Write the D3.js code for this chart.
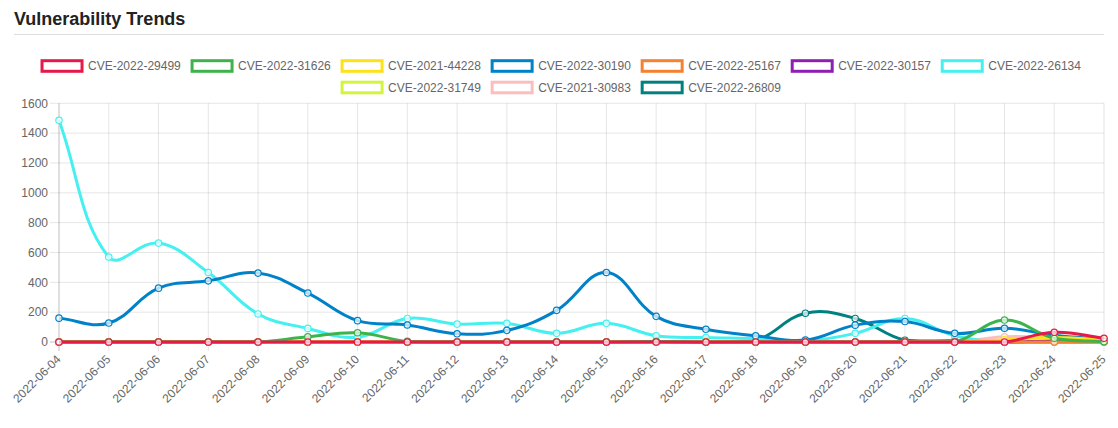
<!DOCTYPE html>
<html>
<head>
<meta charset="utf-8">
<script src="https://cdn.jsdelivr.net/npm/d3@7/dist/d3.min.js"></script>
<style>
  html, body { margin: 0; padding: 0; background: #fff; }
  svg { display: block; font-family: "Liberation Sans", Arial, Helvetica, sans-serif; }
</style>
</head>
<body>
<svg id="chart" width="1118" height="428"></svg>
<script>
// ---------- data ----------
const dates = ["2022-06-04","2022-06-05","2022-06-06","2022-06-07","2022-06-08","2022-06-09","2022-06-10","2022-06-11","2022-06-12","2022-06-13","2022-06-14","2022-06-15","2022-06-16","2022-06-17","2022-06-18","2022-06-19","2022-06-20","2022-06-21","2022-06-22","2022-06-23","2022-06-24","2022-06-25"];
const seriesNames = ["CVE-2022-29499","CVE-2022-31626","CVE-2021-44228","CVE-2022-30190","CVE-2022-25167","CVE-2022-30157","CVE-2022-26134","CVE-2022-31749","CVE-2021-30983","CVE-2022-26809"];
const cve_2022_29499 = [0,0,0,0,0,0,0,0,0,0,0,0,0,0,0,0,0,0,0,0,65,25];
const cve_2022_31626 = [0,0,0,0,0,35,62,4,0,0,0,0,4,0,0,0,0,0,0,147,25,3];
const cve_2021_44228 = [0,0,0,0,0,0,0,0,0,0,0,0,0,4,0,0,0,0,0,15,30,15];
const cve_2022_30190 = [160,127,361,410,462,328,143,114,55,78,212,466,172,85,42,13,113,137,58,92,45,17];
const cve_2022_25167 = [0,0,0,0,0,0,0,0,0,0,0,0,0,0,0,0,0,0,0,0,0,0];
const cve_2022_30157 = [0,0,0,0,0,0,0,0,0,0,0,0,0,0,0,0,0,0,0,0,6,4];
const cve_2022_26134 = [1486,569,663,466,188,91,32,158,120,125,58,125,42,30,22,8,58,158,42,0,0,0];
const cve_2022_31749 = [0,0,0,0,0,0,0,0,0,0,0,0,0,0,0,0,0,0,0,0,5,2];
const cve_2021_30983 = [0,0,0,0,0,0,0,0,0,0,0,0,0,0,0,0,0,0,0,35,30,15];
const cve_2022_26809 = [0,0,0,0,0,0,0,0,0,0,0,0,0,0,10,193,158,12,8,0,0,0];
const seriesValues = [cve_2022_29499,cve_2022_31626,cve_2021_44228,cve_2022_30190,cve_2022_25167,cve_2022_30157,cve_2022_26134,cve_2022_31749,cve_2021_30983,cve_2022_26809];
const seriesColors = ["#e6194b","#3cb44b","#ffe119","#0082c8","#f58231","#911eb4","#46f0f0","#d2f53c","#fabebe","#008080"];
const yTicks = [0,200,400,600,800,1000,1200,1400,1600];
const titleText = "Vulnerability Trends";

// ---------- layout ----------
const svg = d3.select("#chart");
const area = { left: 59, right: 1104, top: 103.3, bottom: 342 };
const x = d3.scalePoint().domain(dates).range([area.left, area.right]);
const y = d3.scaleLinear().domain([0, 1600]).range([area.bottom, area.top]);

// title + separator
svg.append("text").attr("x", 14).attr("y", 25)
  .attr("font-size", 18).attr("font-weight", "bold").attr("fill", "#222")
  .text(titleText);
svg.append("line").attr("x1", 14).attr("x2", 1104).attr("y1", 34.5).attr("y2", 34.5)
  .attr("stroke", "#dedede").attr("stroke-width", 1);

// ---------- legend ----------
const legend = svg.append("g");
const items = seriesNames.map((name, i) => ({ name, color: seriesColors[i] }));
const tmp = legend.append("text").attr("font-size", 12);
items.forEach(it => { tmp.text(it.name); it.w = 46 + tmp.node().getComputedTextLength(); });
tmp.remove();
const gap = 11.3, maxW = 1100;
const rows = [[]]; let rw = 0;
items.forEach(it => {
  const add = (rows[rows.length-1].length ? gap : 0) + it.w;
  if (rw + add > maxW) { rows.push([it]); rw = it.w; }
  else { rows[rows.length-1].push(it); rw += add; }
});
rows.forEach((row, r) => {
  const total = d3.sum(row, d => d.w) + gap * (row.length - 1);
  let cx = 560 - total / 2;
  const cy = 66 + r * 21.5;
  row.forEach(it => {
    const g = legend.append("g").attr("transform", `translate(${cx},${cy})`);
    g.append("rect").attr("x", 1.5).attr("y", -5.3).attr("width", 40).attr("height", 10.6)
      .attr("fill", "#fff").attr("stroke", it.color).attr("stroke-width", 3);
    g.append("text").attr("x", 47.5).attr("y", 0).attr("dy", "0.35em")
      .attr("font-size", 12).attr("fill", "#666").text(it.name);
    cx += it.w + gap;
  });
});

// ---------- grid & axes ----------
const grid = svg.append("g");
yTicks.forEach(t => {
  grid.append("line").attr("x1", area.left - 9).attr("x2", area.right)
    .attr("y1", y(t)).attr("y2", y(t))
    .attr("stroke", t === 0 ? "rgba(0,0,0,0.25)" : "rgba(0,0,0,0.1)").attr("stroke-width", 1);
  grid.append("text").attr("x", 48).attr("y", y(t)).attr("dy", "0.35em")
    .attr("text-anchor", "end").attr("font-size", 12).attr("fill", "#666").text(t);
});
dates.forEach((d, i) => {
  grid.append("line").attr("x1", x(d)).attr("x2", x(d))
    .attr("y1", area.top).attr("y2", area.bottom + 9)
    .attr("stroke", i === 0 ? "rgba(0,0,0,0.25)" : "rgba(0,0,0,0.1)").attr("stroke-width", 1);
  grid.append("text")
    .attr("transform", `translate(${x(d) - 0.5},${area.bottom + 15}) rotate(-45)`)
    .attr("text-anchor", "end").attr("dy", "0.35em")
    .attr("font-size", 12).attr("fill", "#666").text(d);
});

// ---------- Chart.js-style spline curve (tension 0.4, capped to chart area) ----------
function SplineCurve(context) { this._context = context; }
SplineCurve.prototype = {
  areaStart() {}, areaEnd() {},
  lineStart() { this._pts = []; },
  point(px, py) { this._pts.push([+px, +py]); },
  lineEnd() {
    const p = this._pts, n = p.length, t = 0.4, ctx = this._context;
    if (!n) return;
    const cap = (v, lo, hi) => Math.max(lo, Math.min(hi, v));
    const cps = p.map((cur, i) => {
      const prev = p[i - 1] || cur, next = p[i + 1] || cur;
      const d01 = Math.hypot(cur[0]-prev[0], cur[1]-prev[1]);
      const d12 = Math.hypot(next[0]-cur[0], next[1]-cur[1]);
      let s01 = d01 / (d01 + d12), s12 = d12 / (d01 + d12);
      if (isNaN(s01)) s01 = 0; if (isNaN(s12)) s12 = 0;
      const fa = t * s01, fb = t * s12;
      const pc = [cur[0] - fa*(next[0]-prev[0]), cur[1] - fa*(next[1]-prev[1])];
      const nc = [cur[0] + fb*(next[0]-prev[0]), cur[1] + fb*(next[1]-prev[1])];
      return {
        prev: [cap(pc[0], area.left, area.right), cap(pc[1], area.top, area.bottom)],
        next: [cap(nc[0], area.left, area.right), cap(nc[1], area.top, area.bottom)]
      };
    });
    ctx.moveTo(p[0][0], p[0][1]);
    for (let i = 1; i < n; i++) {
      const a = cps[i-1].next, b = cps[i].prev;
      ctx.bezierCurveTo(a[0], a[1], b[0], b[1], p[i][0], p[i][1]);
    }
  }
};
const curveSpline = ctx => new SplineCurve(ctx);

const line = d3.line().x((v, i) => x(dates[i])).y(v => y(v)).curve(curveSpline);

// draw datasets last-to-first so the first dataset is on top
const plot = svg.append("g");
for (let s = seriesValues.length - 1; s >= 0; s--) {
  const vals = seriesValues[s], col = seriesColors[s];
  plot.append("path").attr("d", line(vals)).attr("fill", "none")
    .attr("stroke", col).attr("stroke-width", 3)
    .attr("stroke-linejoin", "round").attr("stroke-linecap", "butt");
  plot.append("g").selectAll("circle").data(vals).join("circle")
    .attr("cx", (v, i) => x(dates[i])).attr("cy", v => y(v)).attr("r", 3.2)
    .attr("fill", "rgba(255,255,255,0.7)").attr("stroke", col).attr("stroke-width", 1.2);
}
</script>
</body>
</html>
